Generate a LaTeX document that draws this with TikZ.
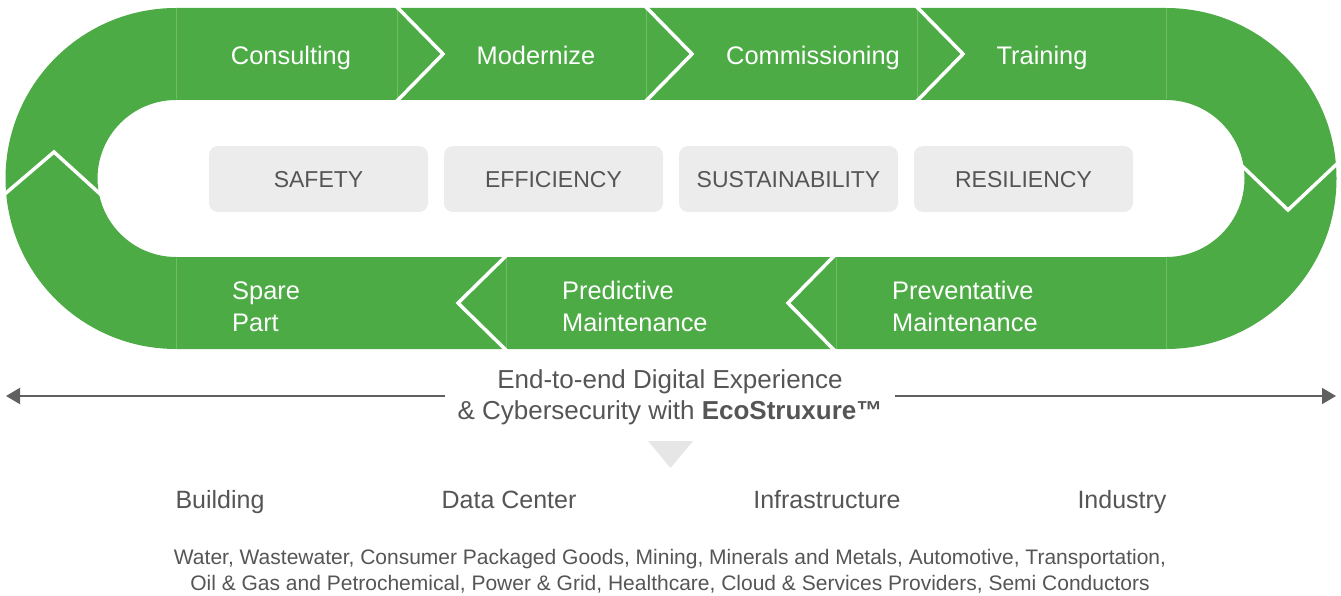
\documentclass[tikz,border=0pt]{standalone}
\usepackage{fontspec}
\setmainfont{Liberation Sans}
\usetikzlibrary{arrows.meta}
\definecolor{sgreen}{RGB}{76,171,68}
\definecolor{seamc}{RGB}{110,190,100}
\definecolor{boxgray}{RGB}{236,236,236}
\definecolor{txtgray}{RGB}{85,85,85}
\definecolor{arrgray}{RGB}{96,96,96}
\definecolor{trigray}{RGB}{230,230,230}
\begin{document}
\begin{tikzpicture}[x=1pt,y=-1pt,
  steplbl/.style={text=white,font=\fontsize{25.4}{32}\selectfont,inner sep=0pt,anchor=base},
  steplbltwo/.style={text=white,font=\fontsize{25.4}{32}\selectfont,inner sep=0pt,anchor=base west,align=left},
  valbox/.style={fill=boxgray,rounded corners=9pt,minimum width=219pt,minimum height=66pt,inner sep=0pt},
  vallbl/.style={text=txtgray,font=\fontsize{23}{28}\selectfont,inner sep=0pt,anchor=base},
  sepline/.style={draw=white,line width=3.5pt,line join=miter},
  seamline/.style={draw=seamc,line width=0.6pt},
  catlbl/.style={text=txtgray,font=\fontsize{25}{30}\selectfont,inner sep=0pt,anchor=base},
  arrline/.style={draw=arrgray,line width=2pt,-{Triangle[length=14pt,width=16pt]}},
]
\useasboundingbox (0,0) rectangle (1341,596);
% ring
\fill[sgreen,even odd rule]
  (176,8) -- (1166,8) arc[start angle=-90,end angle=90,radius=170.5] -- (176,349) arc[start angle=90,end angle=270,radius=170.5] -- cycle
  (176,100) -- (1166,100) arc[start angle=-90,end angle=90,radius=78.5] -- (176,257) arc[start angle=90,end angle=270,radius=78.5] -- cycle;
% faint seams
\foreach \x in {176,397,646,917,1166} \draw[seamline] (\x,8.5) -- (\x,99.5);
\foreach \x in {176,506,836,1166} \draw[seamline] (\x,257.5) -- (\x,348.5);
% chevron separators
\draw[sepline] (394,4) -- (443,54) -- (394,104);
\draw[sepline] (643,4) -- (692,54) -- (643,104);
\draw[sepline] (914,4) -- (963,54) -- (914,104);
\draw[sepline] (509,253) -- (458,303) -- (509,353);
\draw[sepline] (837,253) -- (788,303) -- (837,353);
\draw[sepline] (2,196.4) -- (54,152) -- (103,196.6);
\draw[sepline] (1239,163) -- (1288,210) -- (1340,161);
% step labels
\node[steplbl] (consult) at (291,65) {Consulting};
\node[steplbl] (modern) at (536,65) {Modernize};
\node[steplbl] (commis) at (813,65) {Commissioning};
\node[steplbl] (train) at (1042,65) {Training};
\node[steplbltwo] (spare) at (232,331) {Spare\\Part};
\node[steplbltwo] (predict) at (562,331) {Predictive\\Maintenance};
\node[steplbltwo] (prevent) at (892,331) {Preventative\\Maintenance};
% value boxes
\node[valbox] (b1) at (318.5,179) {};
\node[valbox] (b2) at (553.5,179) {};
\node[valbox] (b3) at (788.5,179) {};
\node[valbox] (b4) at (1023.5,179) {};
\node[vallbl] (t1) at (318.5,188) {SAFETY};
\node[vallbl] (t2) at (553.5,188) {EFFICIENCY};
\node[vallbl] (t3) at (788.5,188) {SUSTAINABILITY};
\node[vallbl] (t4) at (1023.5,188) {RESILIENCY};
% digital experience
\coordinate (aL) at (6,396);
\coordinate (aR) at (1336,396);
\node[text=txtgray,font=\fontsize{26}{31}\selectfont,inner ysep=0pt,inner xsep=12pt,anchor=base,align=center] (dx) at (670,419)
  {End-to-end Digital Experience\\\& Cybersecurity with \textbf{EcoStruxure™}};
\draw[arrline] (dx.west |- aL) -- (aL);
\draw[arrline] (dx.east |- aR) -- (aR);
\fill[trigray] (648,441) -- (693,441) -- (670.5,468) -- cycle;
% categories
\node[catlbl] (c1) at (220,508) {Building};
\node[catlbl] (c2) at (509,508) {Data Center};
\node[catlbl] (c3) at (827,508) {Infrastructure};
\node[catlbl] (c4) at (1122,508) {Industry};
\node[text=txtgray,font=\fontsize{21}{26}\selectfont,inner sep=0pt,anchor=base,align=center] (ind) at (670,590)
  {Water, Wastewater, Consumer Packaged Goods, Mining, Minerals and Metals, Automotive, Transportation,\\Oil \& Gas and Petrochemical, Power \& Grid, Healthcare, Cloud \& Services Providers, Semi Conductors};
\end{tikzpicture}
\end{document}
